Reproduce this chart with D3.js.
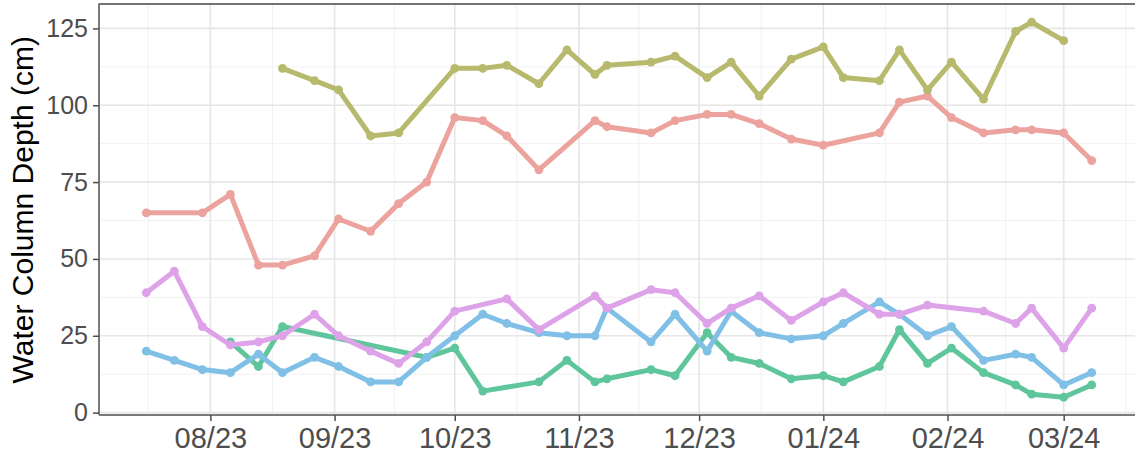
<!DOCTYPE html>
<html>
<head>
<meta charset="utf-8">
<script src="https://cdn.jsdelivr.net/npm/d3@7"></script>
<style>
  html, body { margin: 0; padding: 0; background: #ffffff; }
  svg { display: block; }
  text { font-family: "Liberation Sans", Arial, Helvetica, sans-serif; }
</style>
</head>
<body>
<svg id="chart" width="1135" height="457"></svg>
<script>
// Sampling dates shared by all sites
const sampleDates = [
  "2023-07-16", "2023-07-23", "2023-07-30", "2023-08-06", "2023-08-13",
  "2023-08-19", "2023-08-27", "2023-09-02", "2023-09-10", "2023-09-17",
  "2023-09-24", "2023-10-01", "2023-10-08", "2023-10-14", "2023-10-22",
  "2023-10-29", "2023-11-05", "2023-11-08", "2023-11-19", "2023-11-25",
  "2023-12-03", "2023-12-09", "2023-12-16", "2023-12-24", "2024-01-01",
  "2024-01-06", "2024-01-15", "2024-01-20", "2024-01-27", "2024-02-02",
  "2024-02-10", "2024-02-18", "2024-02-22", "2024-03-01", "2024-03-08"
];

// Water column depth (cm) per site; null = not sampled
const depthRed = [65, null, 65, 71, 48, 48, 51, 63, 59, 68, 75, 96, 95, 90, 79, null, 95, 93, 91, 95,
  97, 97, 94, 89, 87, null, 91, 101, 103, 96, 91, 92, 92, 91, 82];
const depthOlive = [null, null, null, null, null, 112, 108, 105, 90, 91, null, 112, 112, 113, 107, 118, 110, 113, 114, 116,
  109, 114, 103, 115, 119, 109, 108, 118, 105, 114, 102, 124, 127, 121, null];
const depthGreen = [null, null, null, 23, 15, 28, null, null, null, null, 18, 21, 7, null, 10, 17, 10, 11, 14, 12,
  26, 18, 16, 11, 12, 10, 15, 27, 16, 21, 13, 9, 6, 5, 9];
const depthBlue = [20, 17, 14, 13, 19, 13, 18, 15, 10, 10, 18, 25, 32, 29, 26, 25, 25, 34, 23, 32,
  20, 33, 26, 24, 25, 29, 36, 32, 25, 28, 17, 19, 18, 9, 13];
const depthPurple = [39, 46, 28, 22, 23, 25, 32, 25, 20, 16, 23, 33, null, 37, 27, null, 38, 34, 40, 39,
  29, 34, 38, 30, 36, 39, 32, 32, 35, null, 33, 29, 34, 21, 34];

const yTicks = [0, 25, 50, 75, 100, 125];
const xTickLabels = ["08/23", "09/23", "10/23", "11/23", "12/23", "01/24", "02/24", "03/24"];
const xTickDates = ["2023-08-01", "2023-09-01", "2023-10-01", "2023-11-01", "2023-12-01", "2024-01-01", "2024-02-01", "2024-03-01"];

const seriesList = [
  { values: depthRed,    color: "#eca29d" },
  { values: depthOlive,  color: "#b7b96c" },
  { values: depthGreen,  color: "#5fc59b" },
  { values: depthBlue,   color: "#80bfe6" },
  { values: depthPurple, color: "#dda2e8" }
];

const parse = d3.utcParse("%Y-%m-%d");
const dates = sampleDates.map(parse);

const panel = { left: 99, right: 1139, top: 3.5, bottom: 416 };

// ggplot-style 5% expansion on both axes
const [dMin, dMax] = d3.extent(dates);
const span = dMax - dMin;
const x = d3.scaleUtc()
  .domain([new Date(+dMin - 0.05 * span), new Date(+dMax + 0.05 * span)])
  .range([panel.left, panel.right]);

const allVals = seriesList.flatMap(s => s.values.filter(v => v != null));
const [vMin, vMax] = d3.extent(allVals);
const vPad = (vMax - vMin) * 0.05;
const y = d3.scaleLinear()
  .domain([vMin - vPad, vMax + vPad])
  .range([panel.bottom, panel.top]);

const svg = d3.select("#chart");
const g = svg.append("g");

// Minor grid
const majorTickDates = xTickDates.map(parse);
const minorX = [];
const extMajors = [d3.utcMonth.offset(majorTickDates[0], -1), ...majorTickDates, d3.utcMonth.offset(majorTickDates[majorTickDates.length - 1], 1)];
for (let i = 0; i < extMajors.length - 1; i++) {
  minorX.push(new Date((+extMajors[i] + +extMajors[i + 1]) / 2));
}
const minorY = yTicks.slice(0, -1).map((v, i) => (v + yTicks[i + 1]) / 2).concat([yTicks[yTicks.length - 1] + 12.5]);

g.append("g").selectAll("line.minx").data(minorX.filter(d => x(d) > panel.left && x(d) < panel.right))
  .join("line")
  .attr("x1", d => x(d)).attr("x2", d => x(d))
  .attr("y1", panel.top).attr("y2", panel.bottom)
  .attr("stroke", "#f1f1f1").attr("stroke-width", 1);
g.append("g").selectAll("line.miny").data(minorY.filter(v => y(v) > panel.top && y(v) < panel.bottom))
  .join("line")
  .attr("x1", panel.left).attr("x2", panel.right)
  .attr("y1", d => y(d)).attr("y2", d => y(d))
  .attr("stroke", "#f1f1f1").attr("stroke-width", 1);

// Major grid
g.append("g").selectAll("line").data(majorTickDates)
  .join("line")
  .attr("x1", d => x(d)).attr("x2", d => x(d))
  .attr("y1", panel.top).attr("y2", panel.bottom)
  .attr("stroke", "#e6e6e6").attr("stroke-width", 1.6);
g.append("g").selectAll("line").data(yTicks)
  .join("line")
  .attr("x1", panel.left).attr("x2", panel.right)
  .attr("y1", d => y(d)).attr("y2", d => y(d))
  .attr("stroke", "#e6e6e6").attr("stroke-width", 1.6);

// Series lines and points
const line = d3.line().x(d => x(d.date)).y(d => y(d.value));
seriesList.forEach(s => {
  const pts = dates.map((d, i) => ({ date: d, value: s.values[i] })).filter(p => p.value != null);
  g.append("path")
    .datum(pts)
    .attr("d", line)
    .attr("fill", "none")
    .attr("stroke", s.color)
    .attr("stroke-width", 5)
    .attr("stroke-linejoin", "round")
    .attr("stroke-linecap", "round");
  g.append("g").selectAll("circle").data(pts)
    .join("circle")
    .attr("cx", d => x(d.date))
    .attr("cy", d => y(d.value))
    .attr("r", 4.4)
    .attr("fill", s.color);
});

// Panel border
g.append("line").attr("x1", panel.left).attr("x2", panel.right)
  .attr("y1", panel.top + 0.5).attr("y2", panel.top + 0.5)
  .attr("stroke", "#444").attr("stroke-width", 1.3);
g.append("line").attr("x1", panel.left).attr("x2", panel.left)
  .attr("y1", panel.top).attr("y2", panel.bottom - 1)
  .attr("stroke", "#7a7a7a").attr("stroke-width", 2);
g.append("line").attr("x1", panel.left).attr("x2", panel.right)
  .attr("y1", panel.bottom - 1).attr("y2", panel.bottom - 1)
  .attr("stroke", "#7a7a7a").attr("stroke-width", 2);

// Y axis
const yAxis = d3.axisLeft(y).tickValues(yTicks).tickSize(6).tickPadding(5);
const ya = svg.append("g").attr("transform", `translate(${panel.left},0)`).call(yAxis);
ya.select(".domain").remove();
ya.selectAll(".tick line").attr("stroke", "#4d4d4d").attr("stroke-width", 1.5);
ya.selectAll(".tick text")
  .attr("fill", "#4d4d4d")
  .attr("font-size", 25)
  .attr("font-family", "'Liberation Sans', Arial, sans-serif");

// X axis
const xAxis = d3.axisBottom(x).tickValues(majorTickDates)
  .tickFormat((d, i) => xTickLabels[i]).tickSize(6).tickPadding(6);
const xa = svg.append("g").attr("transform", `translate(0,${panel.bottom - 1})`).call(xAxis);
xa.select(".domain").remove();
xa.selectAll(".tick line").attr("stroke", "#4d4d4d").attr("stroke-width", 1.5);
xa.selectAll(".tick text")
  .attr("fill", "#4d4d4d")
  .attr("font-size", 29)
  .attr("font-family", "'Liberation Sans', Arial, sans-serif");

// Y axis title
svg.append("text")
  .attr("transform", `translate(33,${(panel.top + panel.bottom) / 2}) rotate(-90)`)
  .attr("text-anchor", "middle")
  .attr("font-size", 30)
  .attr("fill", "#000")
  .text("Water Column Depth (cm)");
</script>
</body>
</html>
